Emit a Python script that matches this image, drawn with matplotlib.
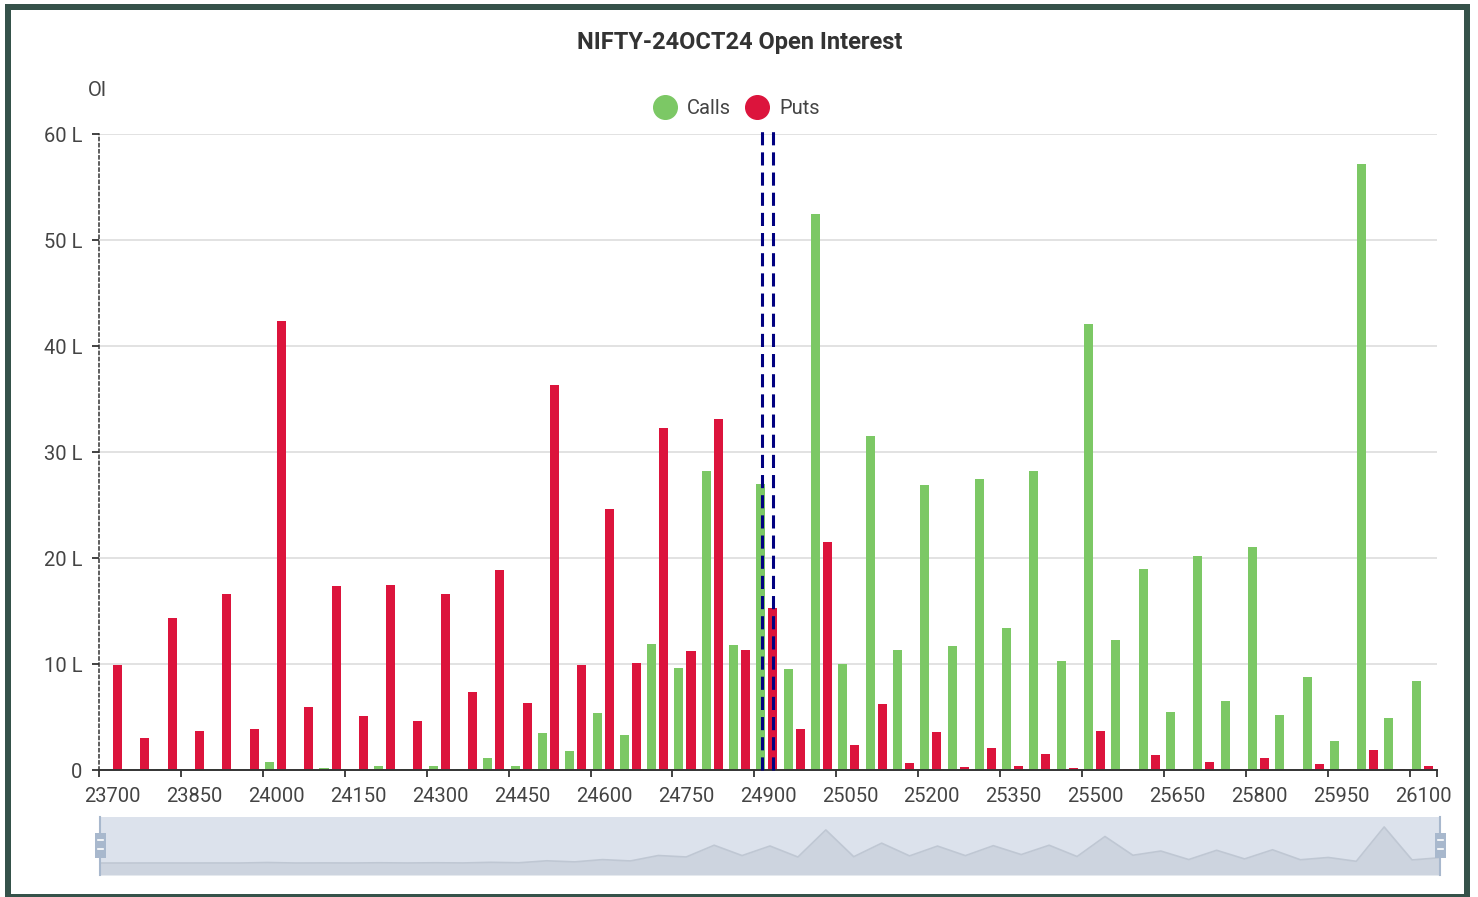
import matplotlib
matplotlib.use('Agg')
import matplotlib.pyplot as plt
from matplotlib.patches import Rectangle
from matplotlib.lines import Line2D
import numpy as np

# strike categories and open interest (in lakhs)
strikes = list(range(23700, 26101, 50))

calls = [0, 0, 0.05, 0, 0.05, 0, 0.8, 0, 0.15, 0,
         0.4, 0.05, 0.4, 0.1, 1.1, 0.4, 3.5, 1.8, 5.4, 3.3,
         11.9, 9.6, 28.2, 11.8, 27.0, 9.5, 52.5, 10.0, 31.5, 11.3,
         26.9, 11.7, 27.5, 13.4, 28.2, 10.3, 42.1, 12.3, 19.0, 5.5,
         20.2, 6.5, 21.0, 5.2, 8.8, 2.7, 57.2, 4.9, 8.4]

puts = [9.9, 3.0, 14.3, 3.7, 16.6, 3.9, 42.4, 5.9, 17.4, 5.1,
        17.5, 4.6, 16.6, 7.4, 18.9, 6.3, 36.3, 9.9, 24.6, 10.1,
        32.3, 11.2, 33.1, 11.3, 15.3, 3.9, 21.5, 2.4, 6.2, 0.7,
        3.6, 0.25, 2.1, 0.4, 1.5, 0.2, 3.7, 0.1, 1.4, 0,
        0.8, 0.1, 1.1, 0, 0.6, 0.05, 1.9, 0.1, 0.4]

yticks = [0, 10, 20, 30, 40, 50, 60]
ytick_labels = ['0', '10 L', '20 L', '30 L', '40 L', '50 L', '60 L']

# positions (in category units) of the two dashed marker lines
mark_lines = [24.28, 24.69]

GREEN = '#7CC865'
RED = '#DC143C'
TXT = '#444444'

plt.rcParams['font.family'] = ['Roboto', 'DejaVu Sans']

W, H = 1478, 897
fig = plt.figure(figsize=(W / 100, H / 100), dpi=100)


def fx(px):
    return px / W


def fy(py):
    return 1 - py / H


# main chart
ax = fig.add_axes([fx(99), fy(770), fx(1437) - fx(99), fy(134) - fy(770)])
x = np.arange(len(strikes))
ax.bar(x + 0.24, calls, width=0.33, color=GREEN, zorder=3)
ax.bar(x + 0.68, puts, width=0.33, color=RED, zorder=3)
ax.set_xlim(0, len(strikes))
ax.set_ylim(0, 60)

# tick marks on category boundaries, labels at category centres
shown = list(range(0, len(strikes), 3))
ax.set_xticks(shown + [len(strikes)])
ax.set_xticklabels([])
ax.set_xticks([k + 0.5 for k in shown], minor=True)
ax.set_xticklabels([str(strikes[k]) for k in shown], minor=True,
                   fontsize=14.5, color=TXT)
ax.tick_params(axis='x', which='major', length=5, width=1.3, color='#333333')
ax.tick_params(axis='x', which='minor', length=0, pad=12)

ax.set_yticks(yticks)
ax.set_yticklabels(ytick_labels, fontsize=14.5, color=TXT)
ax.tick_params(axis='y', length=5, width=1.3, color='#333333', pad=7)
ax.grid(axis='y', color='#DDDDDD', linewidth=1.2, zorder=0)
for s in ['top', 'right']:
    ax.spines[s].set_visible(False)
ax.spines['bottom'].set_color('#333333')
ax.spines['bottom'].set_linewidth(1.4)
ax.spines['bottom'].set_zorder(4)
ax.spines['left'].set_linestyle((0, (2, 2)))
ax.spines['left'].set_color('#333333')
ax.spines['left'].set_linewidth(1.1)

ax.vlines(mark_lines, 0, 60.55, colors='#000080', linestyles=(0, (4.3, 2.3)),
          linewidth=2.2, zorder=5, clip_on=False)

fig.text(fx(740), fy(42), 'NIFTY-24OCT24 Open Interest', fontsize=17,
         fontweight='bold', color='#333333', ha='center', va='center')
fig.text(fx(97), fy(91), 'OI', fontsize=14.5, color=TXT, ha='center', va='center')

handles = [Line2D([], [], marker='o', linestyle='none', markersize=17,
                  markerfacecolor=GREEN, markeredgecolor=GREEN, label='Calls'),
           Line2D([], [], marker='o', linestyle='none', markersize=17,
                  markerfacecolor=RED, markeredgecolor=RED, label='Puts')]
leg = fig.legend(handles=handles, loc='center', bbox_to_anchor=(fx(737), fy(109)),
                 ncol=2, frameon=False, fontsize=14.5, handlelength=1.0,
                 handletextpad=0.6, columnspacing=0.8)
for t in leg.get_texts():
    t.set_color(TXT)

# data zoom slider
ax2 = fig.add_axes([fx(100), fy(875), fx(1440) - fx(100), fy(817) - fy(875)])
ax2.set_facecolor('#DCE2EC')
ax2.fill_between(x, calls, -19, color='#CDD4DF', linewidth=0)
ax2.plot(x, calls, color='#BFC7D3', linewidth=1.2)
ax2.set_xlim(0, len(strikes) - 1)
ax2.set_ylim(-19, 73)
ax2.set_xticks([])
ax2.set_yticks([])
for s in ax2.spines.values():
    s.set_visible(False)

# overlay in pixel coordinates: slider handles and outer frame
ov = fig.add_axes([0, 0, 1, 1])
ov.set_xlim(0, W)
ov.set_ylim(H, 0)
ov.set_axis_off()
for hx in [100, 1440]:
    ov.plot([hx, hx], [817, 875], color='#A8B8CD', linewidth=1.5)
    ov.add_patch(Rectangle((hx - 5, 833), 11, 25, facecolor='#A8B8CD', edgecolor='none'))
    for ly in [840, 849]:
        ov.plot([hx - 2.5, hx + 3], [ly, ly], color='white', linewidth=1.2)

FRAME = '#35524A'
ov.add_patch(Rectangle((5, 4), 6, H - 4, facecolor=FRAME, edgecolor='none'))
ov.add_patch(Rectangle((5, 4), 1465, 6, facecolor=FRAME, edgecolor='none'))
ov.add_patch(Rectangle((1464, 4), 6, H - 4, facecolor=FRAME, edgecolor='none'))
ov.add_patch(Rectangle((5, 894), 1465, 3, facecolor=FRAME, edgecolor='none'))

fig.savefig('out.png', dpi=100, facecolor='white')
